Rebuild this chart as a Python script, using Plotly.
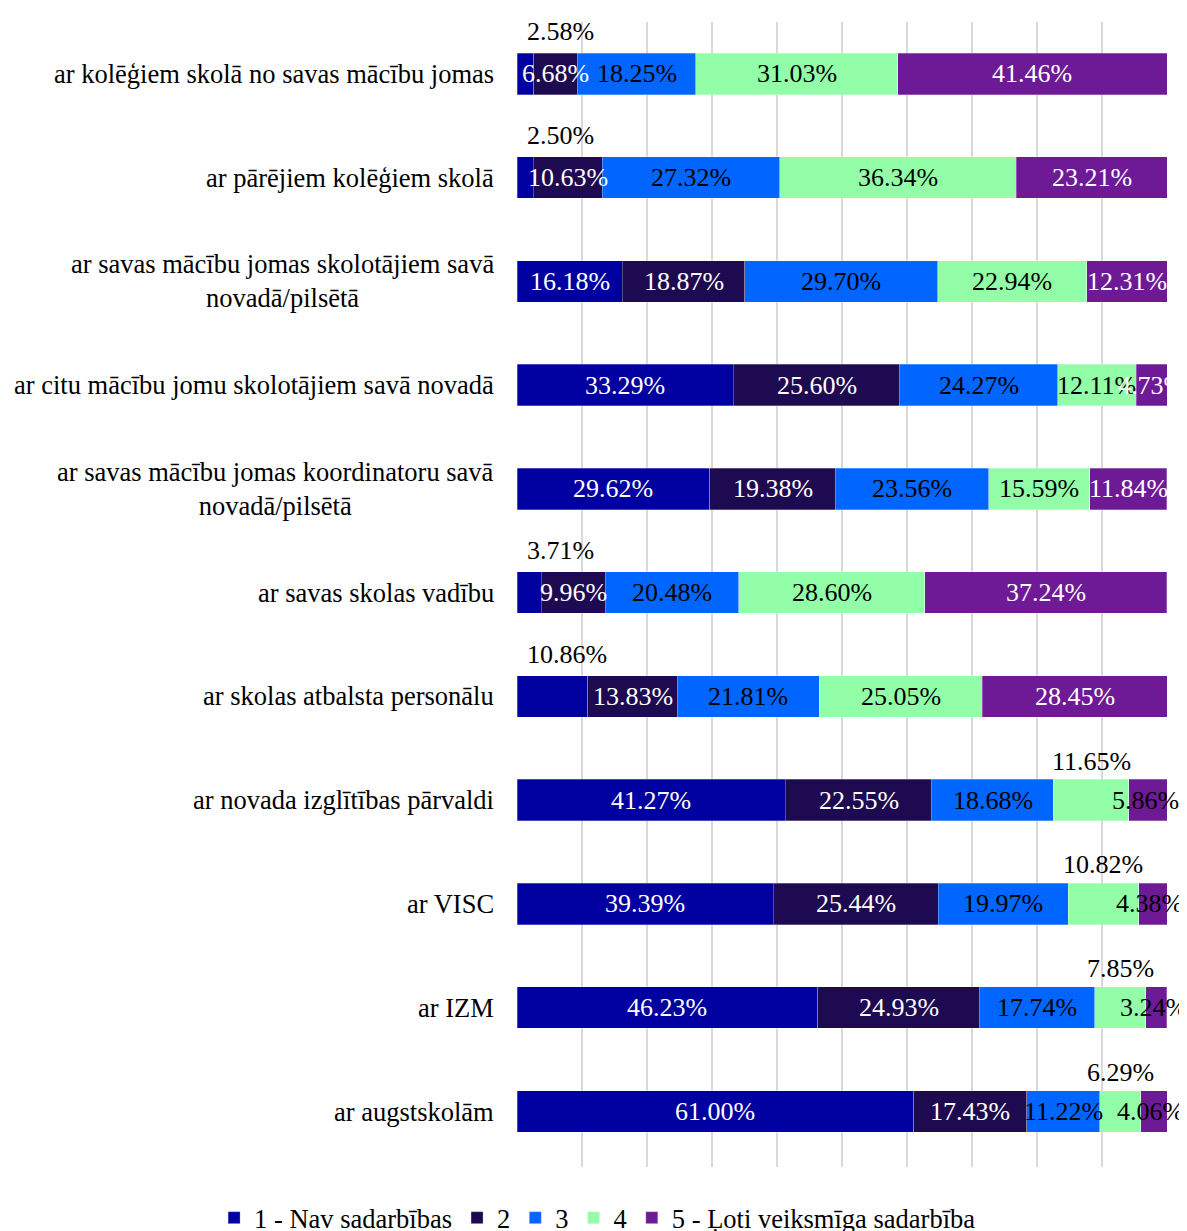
import plotly.graph_objects as go

categories = [
    "ar kolēģiem skolā no savas mācību jomas",
    "ar pārējiem kolēģiem skolā",
    "ar savas mācību jomas skolotājiem savā<br>novadā/pilsētā",
    "ar citu mācību jomu skolotājiem savā novadā",
    "ar savas mācību jomas koordinatoru savā<br>novadā/pilsētā",
    "ar savas skolas vadību",
    "ar skolas atbalsta personālu",
    "ar novada izglītības pārvaldi",
    "ar VISC",
    "ar IZM",
    "ar augstskolām",
]
series_names = ["1 - Nav sadarbības", "2", "3", "4", "5 - Ļoti veiksmīga sadarbība"]

s1 = [2.58, 2.50, 16.18, 33.29, 29.62, 3.71, 10.86, 41.27, 39.39, 46.23, 61.00]
s2 = [6.68, 10.63, 18.87, 25.60, 19.38, 9.96, 13.83, 22.55, 25.44, 24.93, 17.43]
s3 = [18.25, 27.32, 29.70, 24.27, 23.56, 20.48, 21.81, 18.68, 19.97, 17.74, 11.22]
s4 = [31.03, 36.34, 22.94, 12.11, 15.59, 28.60, 25.05, 11.65, 10.82, 7.85, 6.29]
s5 = [41.46, 23.21, 12.31, 4.73, 11.84, 37.24, 28.45, 5.86, 4.38, 3.24, 4.06]

colors = ["#0000A0", "#1E0A50", "#0066FF", "#92FFA8", "#6E1A96"]
series = [s1, s2, s3, s4, s5]

# rows whose label sits above the bar (per series)
above_rows = [[0, 1, 5, 6], [], [], [7, 8, 9, 10], []]
# label colours per series, with exceptions in series 5
label_colors = ["white", "white", "black", "black", "white"]
s5_black_rows = [7, 8, 9, 10]

FONT = "Liberation Serif, Times New Roman, serif"

fig = go.Figure()
for k, vals in enumerate(series):
    fig.add_trace(go.Bar(
        y=categories,
        x=[v / 100 for v in vals],
        orientation="h",
        name=series_names[k],
        marker=dict(color=colors[k], line=dict(color="rgba(255,255,255,0.35)", width=0.8)),
        width=0.4,
        hoverinfo="x+y+name",
    ))

annotations = []
for k, vals in enumerate(series):
    for i, v in enumerate(vals):
        start = sum(series[j][i] for j in range(k)) / 100
        mid = start + v / 200
        txt = f"{v:.2f}%"
        if i in above_rows[k]:
            if k == 0:
                annotations.append(dict(
                    x=start, y=categories[i], xref="x", yref="y", text=txt,
                    showarrow=False, xanchor="left", yanchor="middle",
                    xshift=8, yshift=42,
                    font=dict(family=FONT, size=26, color="black"),
                ))
            else:
                annotations.append(dict(
                    x=mid, y=categories[i], xref="x", yref="y", text=txt,
                    showarrow=False, xanchor="center", yanchor="middle",
                    yshift=39,
                    font=dict(family=FONT, size=26, color="black"),
                ))
        else:
            col = label_colors[k]
            shift = 0
            if k == 4 and i in s5_black_rows:
                col = "black"
                shift = -3
            annotations.append(dict(
                x=mid, y=categories[i], xref="x", yref="y", text=txt,
                showarrow=False, xanchor="center", yanchor="middle", xshift=shift,
                font=dict(family=FONT, size=26, color=col),
            ))

# category labels (multi-line centred)
for c in categories:
    annotations.append(dict(
        x=0, y=c, xref="paper", yref="y", text=c, showarrow=False,
        xanchor="right", yanchor="middle", align="center", xshift=-21,
        font=dict(family=FONT, size=26.5, color="black"),
    ))

fig.update_layout(
    barmode="stack",
    width=1179,
    height=1223,
    margin=dict(l=509, r=20, t=14, b=64, autoexpand=False),
    plot_bgcolor="white",
    paper_bgcolor="white",
    font=dict(family=FONT, size=26, color="black"),
    xaxis=dict(
        range=[0, 1],
        dtick=0.1,
        showgrid=True,
        gridcolor="#D9D9D9",
        gridwidth=2,
        showticklabels=False,
        zeroline=False,
        showline=False,
        ticks="",
    ),
    yaxis=dict(
        autorange="reversed",
        showticklabels=False,
        showgrid=False,
        zeroline=False,
        ticks="",
    ),
    legend=dict(
        orientation="h",
        xref="paper", yref="paper",
        x=-0.466, xanchor="left",
        y=-0.0445, yanchor="middle",
        font=dict(family=FONT, size=26.5, color="black"),
        traceorder="normal",
        itemwidth=30,
        bgcolor="rgba(0,0,0,0)",
    ),
    annotations=annotations,
    showlegend=True,
)

fig.write_html("out.html")
